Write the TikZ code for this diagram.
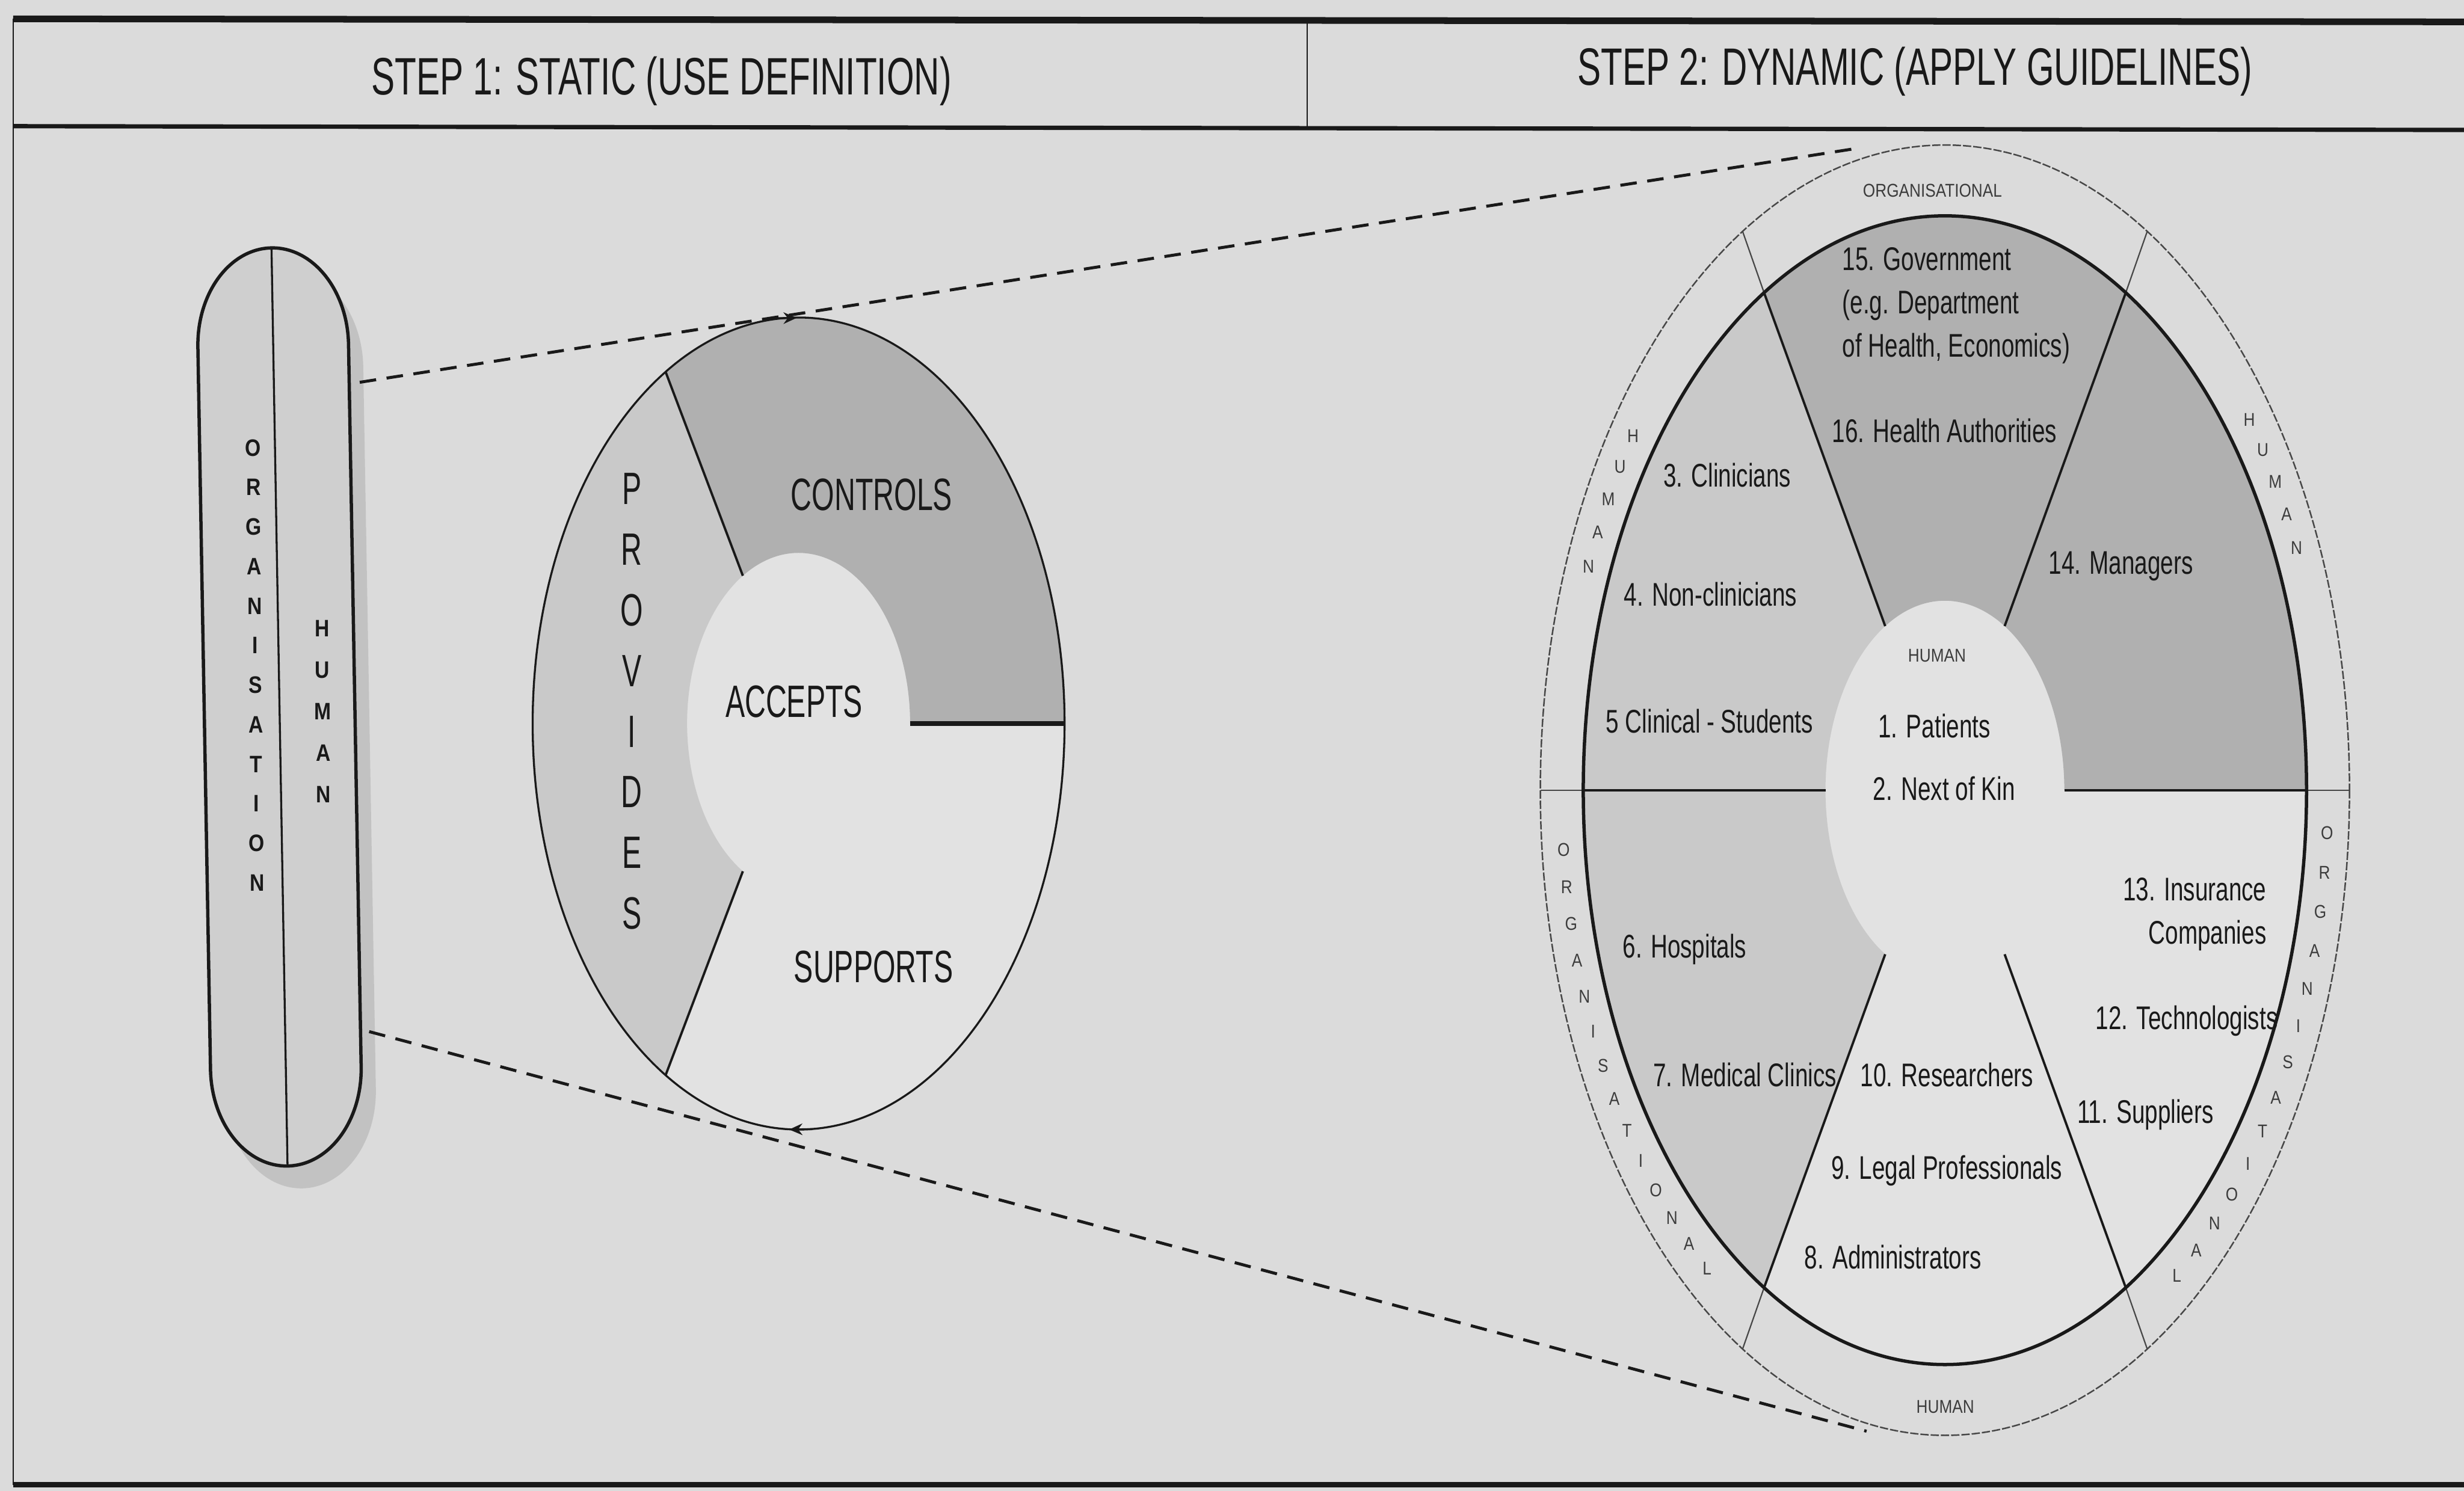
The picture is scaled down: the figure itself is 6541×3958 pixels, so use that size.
\documentclass[tikz,border=0pt]{standalone}
\usepackage{fontspec}
\setmainfont{Liberation Sans}
\newfontfamily\headfont{Liberation Sans}[FakeStretch=0.67]
\newfontfamily\wheelfont{Liberation Sans}[FakeStretch=0.64]
\newfontfamily\labelfont{Liberation Sans}[FakeStretch=0.71]
\newfontfamily\ringfont{Liberation Sans}[FakeStretch=0.85]
\usetikzlibrary{positioning,calc,arrows.meta}
\definecolor{paperC}{gray}{0.86}
\definecolor{hubC}{gray}{0.885}
\definecolor{lightC}{gray}{0.79}
\definecolor{darkC}{gray}{0.69}
\definecolor{pillC}{gray}{0.81}
\definecolor{shadowC}{gray}{0.76}
\definecolor{inkC}{gray}{0.1}

\begin{document}
\begin{tikzpicture}
  [x=0.04mm,y=-0.04mm,
   headN/.style={font=\headfont\fontsize{15.9}{18}\selectfont,text=inkC,inner sep=0pt},
   wheelN/.style={font=\wheelfont\fontsize{13.7}{16}\selectfont,text=inkC,inner sep=0pt},
   labelN/.style={font=\labelfont\fontsize{9.9}{13.1}\selectfont,text=inkC,inner sep=0pt},
   ringN/.style={font=\ringfont\fontsize{5.6}{7}\selectfont,text=inkC!85,inner sep=0pt},
   pillN/.style={font=\ringfont\bfseries\fontsize{7.2}{9}\selectfont,text=inkC,inner sep=0pt},
   frameL/.style={draw=inkC,line width=#1},
   spokeL/.style={draw=inkC,line width=0.7pt},
   ringL/.style={draw=inkC!80,line width=0.45pt,dash pattern=on 2.5pt off 0.6pt},
   zoomL/.style={draw=inkC,line width=0.9pt,dash pattern=on 5pt off 3.2pt}]

  \useasboundingbox (0,0) rectangle (6541,3958);
  \fill[paperC] (0,0) rectangle (6541,3958);

  \draw[frameL=2pt] (35,50) -- (6541,58);
  \draw[frameL=1.3pt] (35,335) -- (6541,345);
  \draw[frameL=1.5pt] (35,3942) -- (6541,3942);
  \draw[frameL=0.5pt] (35,50) -- (35,3942);
  \draw[frameL=0.4pt] (3470,52) -- (3470,338);

  \node[headN] (step1) at (1756,215) {STEP 1: STATIC (USE DEFINITION)};
  \node[headN] (step2) at (5083,190) {STEP 2: DYNAMIC (APPLY GUIDELINES)};

  \begin{scope}[shift={(742,1877)},rotate=1]
    \fill[shadowC] (-162,-899) arc[start angle=180,end angle=360,x radius=200,y radius=260] -- (238,1019) arc[start angle=0,end angle=180,x radius=200,y radius=260] -- cycle;
    \filldraw[fill=pillC,draw=inkC,line width=1pt] (-200,-959) arc[start angle=180,end angle=360,x radius=200,y radius=260] -- (200,959) arc[start angle=0,end angle=180,x radius=200,y radius=260] -- cycle;
    \draw[inkC,line width=0.6pt] (0,-1219) -- (0,1219);
  \end{scope}
  \foreach \ch [count=\i from 0] in {O,R,G,A,N,I,S,A,T,I,O,N}
    \node[pillN] (org\i) at ({672+\i},{1189+105*\i}) {\ch};
  \foreach \ch [count=\i from 0] in {H,U,M,A,N}
    \node[pillN] (hum\i) at ({855+\i},{1669+110*\i}) {\ch};

  \coordinate (mc) at (2120,1921);
  \fill[hubC] (mc) ellipse [x radius=706,y radius=1078];
  \fill[darkC] ($(mc)+(0:706 and 1078)$) arc[start angle=0,end angle=-120,x radius=706,y radius=1078] -- ($(mc)+(-120:296 and 453)$) arc[start angle=-120,end angle=0,x radius=296,y radius=453] -- cycle;
  \fill[lightC] ($(mc)+(-120:706 and 1078)$) arc[start angle=-120,end angle=-240,x radius=706,y radius=1078] -- ($(mc)+(-240:296 and 453)$) arc[start angle=-240,end angle=-120,x radius=296,y radius=453] -- cycle;
  \draw[inkC,line width=0.6pt] (mc) ellipse [x radius=706,y radius=1078];
  \draw[spokeL] ($(mc)+(-120:296 and 453)$) -- ($(mc)+(-120:706 and 1078)$);
  \draw[spokeL] ($(mc)+(-240:296 and 453)$) -- ($(mc)+(-240:706 and 1078)$);
  \draw[spokeL,line width=1.3pt] ($(mc)+(0:296 and 453)$) -- ($(mc)+(0:706 and 1078)$);
  \draw[inkC,line width=0.6pt,-{Stealth[length=4pt,width=3.5pt]}] (2055,845) -- (2115,844);
  \draw[inkC,line width=0.6pt,-{Stealth[length=4pt,width=3.5pt]}] (2155,2998) -- (2095,2999);

  \node[wheelN] (controls) at (2314,1313) {CONTROLS};
  \node[wheelN] (accepts) at (2108,1863) {ACCEPTS};
  \node[wheelN] (supports) at (2319,2567) {SUPPORTS};
  \foreach \ch [count=\i from 0] in {P,R,O,V,I,D,E,S}
    \node[wheelN] (prov\i) at (1677,{1298+161*\i}) {\ch};

  \coordinate (rc) at (5163,2098);
  \fill[hubC] (rc) ellipse [x radius=960,y radius=1525];
  \fill[darkC] ($(rc)+(0:960 and 1525)$) arc[start angle=0,end angle=-120,x radius=960,y radius=1525] -- ($(rc)+(-120:317 and 503)$) arc[start angle=-120,end angle=0,x radius=317,y radius=503] -- cycle;
  \fill[lightC] ($(rc)+(-120:960 and 1525)$) arc[start angle=-120,end angle=-240,x radius=960,y radius=1525] -- ($(rc)+(-240:317 and 503)$) arc[start angle=-240,end angle=-120,x radius=317,y radius=503] -- cycle;
  \draw[ringL] (rc) ellipse [x radius=1074,y radius=1713];
  \foreach \a in {0,-60,...,-300} {
    \draw[spokeL] ($(rc)+(\a:317 and 503)$) -- ($(rc)+(\a:960 and 1525)$);
    \draw[inkC!80,line width=0.4pt] ($(rc)+(\a:960 and 1525)$) -- ($(rc)+(\a:1074 and 1713)$);
  }
  \draw[inkC,line width=1pt] (rc) ellipse [x radius=960,y radius=1525];

  \node[ringN] (topring) at (5130,506) {ORGANISATIONAL};
  \node[ringN] (botring) at (5164,3736) {HUMAN};
  \node[ringN] (hubring) at (5142,1740) {HUMAN};
  \foreach \ch [count=\i from 0] in {H,U,M,A,N}
    \node[ringN] (lh\i) at ($(rc)+({-144.5-3.5*\i}:1017 and 1619)$) {\ch};
  \foreach \ch [count=\i from 0] in {H,U,M,A,N}
    \node[ringN] (rh\i) at ($(rc)+({-37.4+3.5*\i}:1017 and 1619)$) {\ch};
  \foreach \ch [count=\i from 0] in {O,R,G,A,N,I,S,A,T,I,O,N,A,L}
    \node[ringN] (lo\i) at ($(rc)+({-185.6-3.54*\i}:1017 and 1619)$) {\ch};
  \foreach \ch [count=\i from 0] in {O,R,G,A,N,I,S,A,T,I,O,N,A,L}
    \node[ringN] (ro\i) at ($(rc)+({-356+3.75*\i}:1017 and 1619)$) {\ch};

  \node[labelN,align=left,anchor=west] (n15) at (4889,812) {15. Government\\(e.g. Department\\of Health, Economics)};
  \node[labelN] (n16) at (5162,1144) {16. Health Authorities};
  \node[labelN] (n3) at (4585,1262) {3. Clinicians};
  \node[labelN] (n14) at (5630,1504) {14. Managers};
  \node[labelN] (n4) at (4541,1577) {4. Non-clinicians};
  \node[labelN] (n5) at (4538,1915) {5 Clinical - Students};
  \node[labelN] (n1) at (5135,1928) {1. Patients};
  \node[labelN] (n2) at (5161,2094) {2. Next of Kin};
  \node[labelN,align=right,anchor=east] (n13) at (6018,2427) {13. Insurance\\Companies};
  \node[labelN] (n6) at (4472,2521) {6. Hospitals};
  \node[labelN] (n12) at (5805,2710) {12. Technologists};
  \node[labelN] (n7) at (4632,2853) {7. Medical Clinics};
  \node[labelN] (n10) at (5168,2853) {10. Researchers};
  \node[labelN] (n11) at (5695,2960) {11. Suppliers};
  \node[labelN] (n9) at (5168,3108) {9. Legal Professionals};
  \node[labelN] (n8) at (5025,3338) {8. Administrators};

  \coordinate (pillNE) at (955,1015);
  \coordinate (pillSE) at (980,2739);
  \coordinate (ringN) at (4935,393);
  \coordinate (ringS) at (4955,3800);
  \draw[zoomL] (pillNE) -- (ringN);
  \draw[zoomL] (pillSE) -- (ringS);
\end{tikzpicture}
\end{document}
